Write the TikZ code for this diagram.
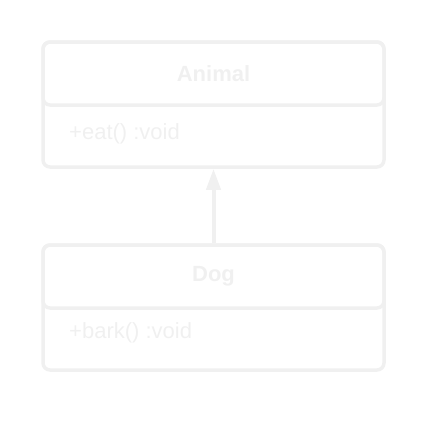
\documentclass[tikz,border=0pt]{standalone}
\usepackage{fontspec}
\setmainfont{Liberation Sans}
\usetikzlibrary{arrows.meta}
\definecolor{umlgray}{HTML}{F0F0F0}

\tikzset{
    classbox/.style={draw=umlgray, line width=3.5pt, rounded corners=7pt, minimum width=341pt, inner sep=0pt},
    titlebox/.style={classbox, minimum height=63pt, text=umlgray, font=\fontsize{22}{26}\selectfont\bfseries},
    member/.style={inner sep=0pt, anchor=west, text=umlgray, font=\fontsize{22}{26}\selectfont},
    inherit/.style={draw=umlgray, line width=4pt, -{Triangle[length=21pt,width=14pt]}}
}

\begin{document}
\begin{tikzpicture}[x=1pt, y=-1pt]
        \useasboundingbox (0,0) rectangle (447,437);

        % Draw the Animal class
        \node[classbox, minimum height=125pt] (animal) at (213.5,104.5) {};
        \node[titlebox] (animaltitle) at (213.5,73.5) {Animal};
        \node[member] (animaleat) at (69,134) {+eat() :void};

        % Draw the Dog class
        \node[classbox, minimum height=125pt] (dog) at (213.5,307.5) {};
        \node[titlebox] (dogtitle) at (213.5,276.5) {Dog};
        \node[member] (dogbark) at (69,333) {+bark() :void};

        % Dog inherits from Animal
        \draw[inherit] (dogtitle.north) -- (animal.south);
    \end{tikzpicture}
\end{document}
